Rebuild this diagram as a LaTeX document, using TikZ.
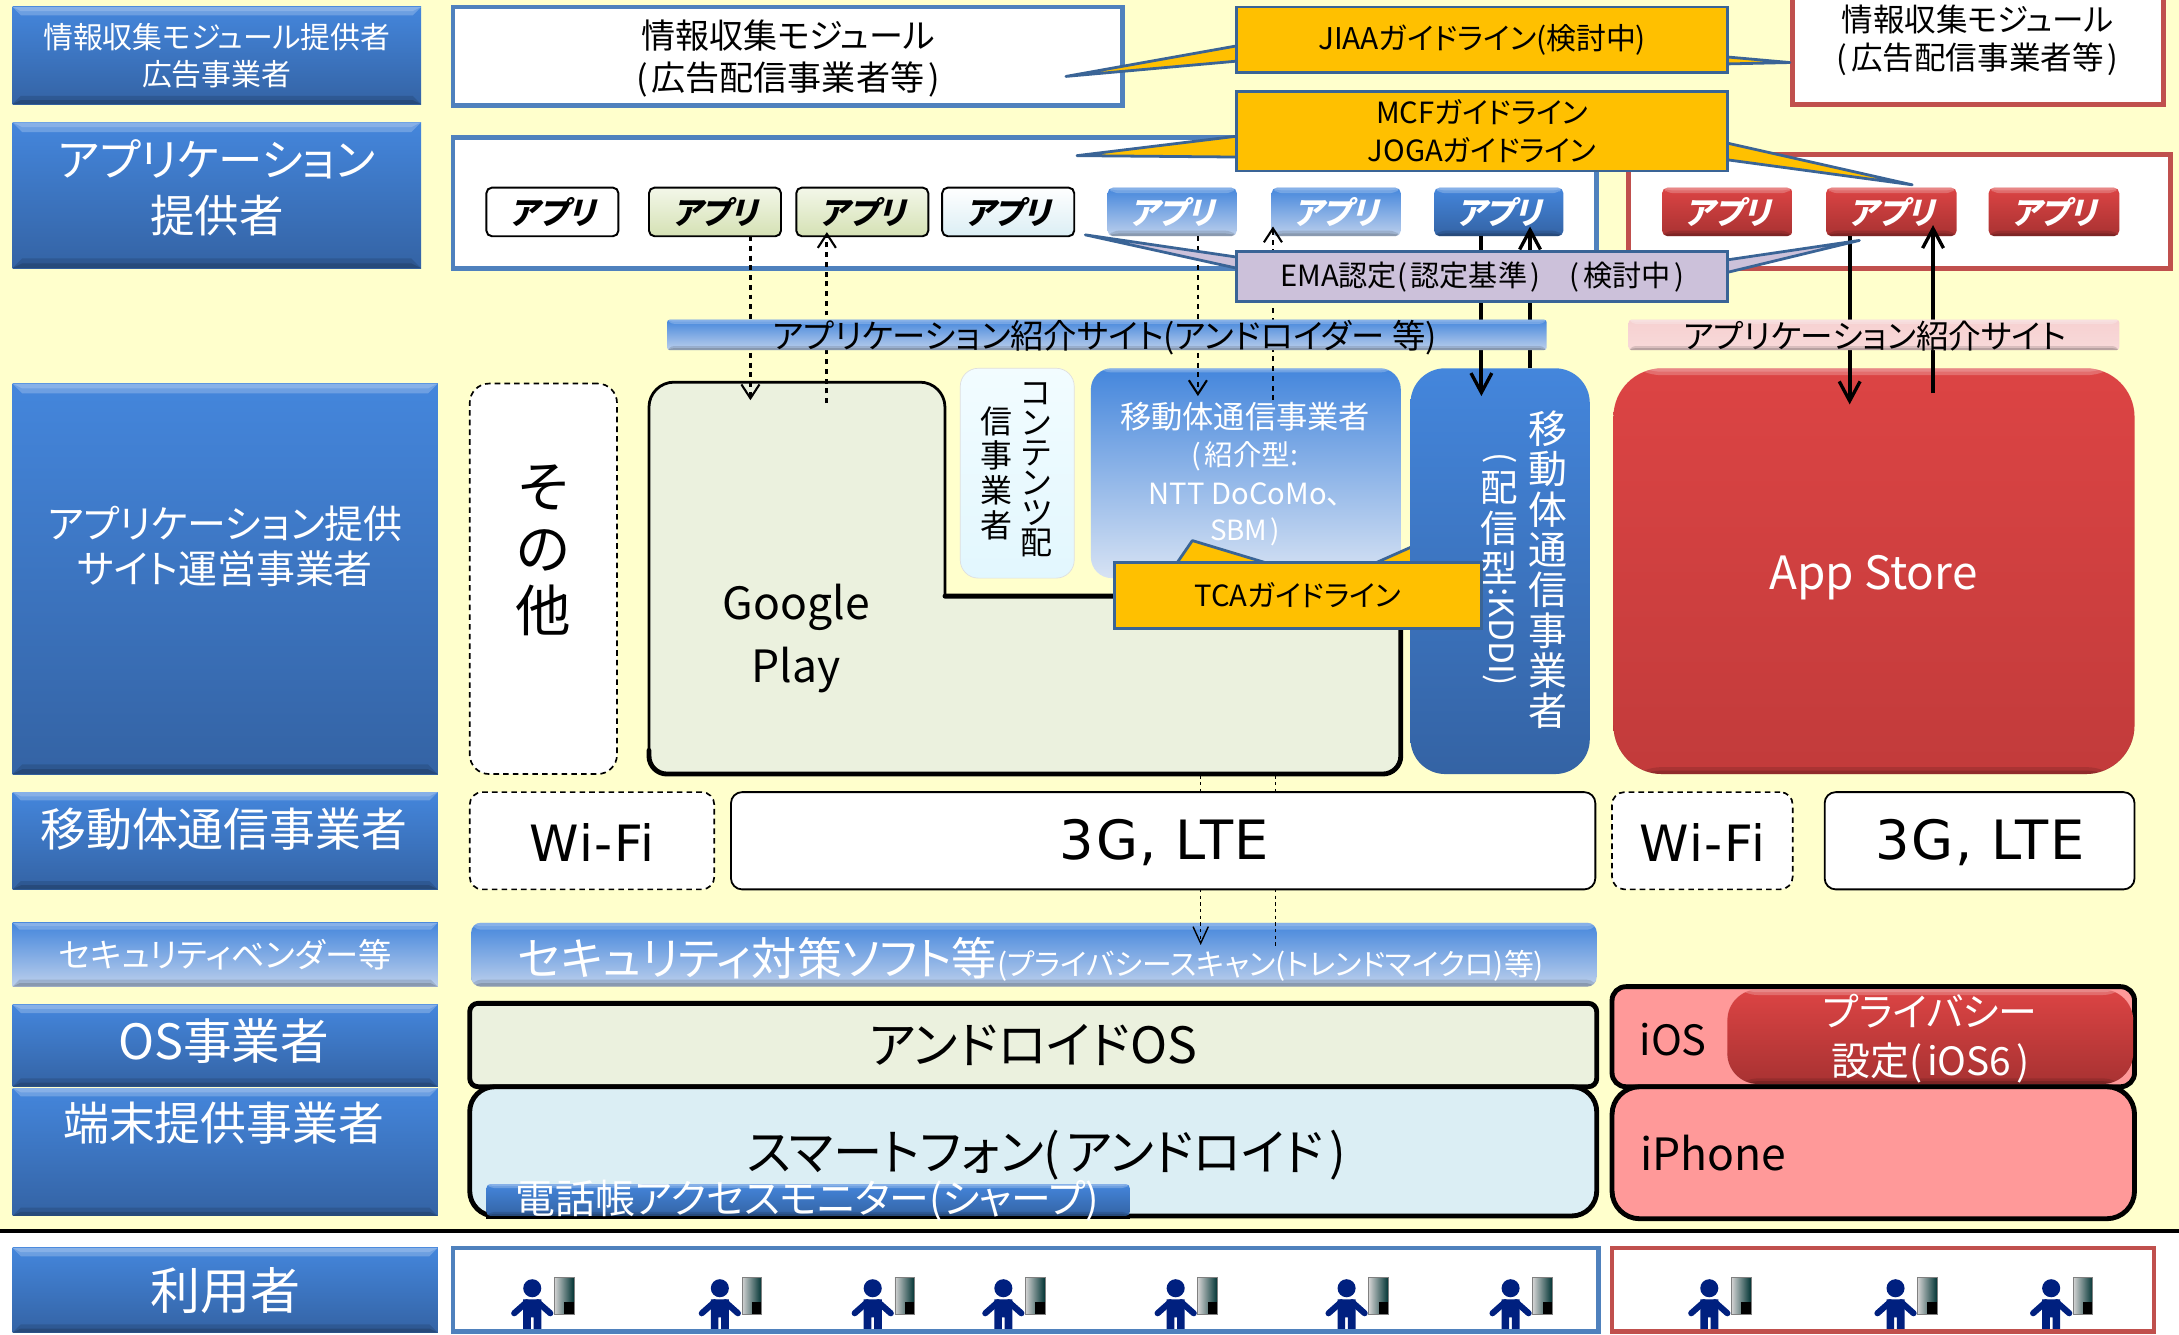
\documentclass[tikz,border=0pt]{standalone}
\usepackage{fontspec}
\setmainfont[RawFeature=+palt]{Noto Sans CJK JP}
\newfontfamily\appf[FakeSlant=0.25,RawFeature=+palt]{Noto Sans CJK JP}
\newfontfamily\wide[LetterSpace=3]{DejaVu Sans}
\usetikzlibrary{arrows.meta,calc}
\lineskiplimit=-100pt
\definecolor{bgy}{HTML}{FFFFCC}
\definecolor{bstroke}{HTML}{4F81BD}
\definecolor{rstroke}{HTML}{C0504D}
\definecolor{cstroke}{HTML}{3A6496}
\definecolor{orng}{HTML}{FFC000}
\definecolor{lilac}{HTML}{CCC1DA}
\definecolor{gpfill}{HTML}{EBF1DE}
\definecolor{gptop}{HTML}{F3F7E9}
\definecolor{gpbot}{HTML}{D5E1B4}
\definecolor{cyt}{HTML}{F2FCFF}
\definecolor{cyb}{HTML}{E2F7FE}
\definecolor{smfill}{HTML}{DBEEF4}
\definecolor{pinkf}{HTML}{FF9999}
\definecolor{bt}{HTML}{4486DC}
\definecolor{bb}{HTML}{3463A4}
\definecolor{lb}{HTML}{BDD0EC}
\definecolor{rt}{HTML}{DC4444}
\definecolor{rb}{HTML}{A83232}
\definecolor{navy}{HTML}{00207F}
\newcommand{\fz}[2]{\fontsize{#1}{#2}\selectfont}
\newcommand{\zl}{(\kern.12em}
\newcommand{\zr}{\kern.12em)}
\newcommand{\ibox}[7]{\node[#6,align=center,inner sep=0pt,outer sep=0pt,minimum width={(#4-#2)*1pt},minimum height={(#5-#3)*1pt}] (#1) at ({(#2+#4)/2},{(#3+#5)/2}) {#7};}
\newcommand{\usr}[1]{\begin{scope}[shift={(#1,0)}]
 \fill[navy] (0,927) circle (6.5);
 \fill[navy] (-6.5,935) -- (6.5,935) -- (6.5,959) -- (1,959) -- (1,948) -- (-1,948) -- (-1,959) -- (-6.5,959) -- cycle;
 \draw[navy,line width=4.4,line cap=round] (-13,945) -- (-4,937);
 \draw[navy,line width=4.4,line cap=round] (13,945) -- (4,937);
 \shade[left color=gray!35!white,right color=black!80!cyan] (16,919) rectangle (30,946);
 \fill[black] (23,937) rectangle (30,946);
 \draw[gray,line width=.6] (16,919) rectangle (30,946);
\end{scope}}
\tikzset{
 bevr/.style={path picture={
  \fill[white,opacity=.22] (path picture bounding box.north west) rectangle ([yshift=-#1 pt]path picture bounding box.north east);
  \fill[white,opacity=.18] (path picture bounding box.north west) rectangle ([yshift=-.5*#1 pt]path picture bounding box.north east);
  \fill[black,opacity=.12] (path picture bounding box.south west) rectangle ([yshift=#1 pt]path picture bounding box.south east);
  \fill[black,opacity=.15] (path picture bounding box.south west) rectangle ([yshift=.5*#1 pt]path picture bounding box.south east);
 }},
 bevt/.style={path picture={
  \fill[white,opacity=.22] (path picture bounding box.north west) rectangle ([yshift=-#1 pt]path picture bounding box.north east);
  \fill[white,opacity=.18] (path picture bounding box.north west) rectangle ([yshift=-.5*#1 pt]path picture bounding box.north east);
 }},
 bev/.style={path picture={
  \fill[white,opacity=.22] (path picture bounding box.north west) -- (path picture bounding box.north east) -- ([xshift=-#1 pt,yshift=-#1 pt]path picture bounding box.north east) -- ([xshift=#1 pt,yshift=-#1 pt]path picture bounding box.north west) -- cycle;
  \fill[white,opacity=.18] (path picture bounding box.north west) -- (path picture bounding box.north east) -- ([xshift=-#1 pt,yshift=-.5*#1 pt]path picture bounding box.north east) -- ([xshift=#1 pt,yshift=-.5*#1 pt]path picture bounding box.north west) -- cycle;
  \fill[black,opacity=.12] (path picture bounding box.south west) -- (path picture bounding box.south east) -- ([xshift=-#1 pt,yshift=#1 pt]path picture bounding box.south east) -- ([xshift=#1 pt,yshift=#1 pt]path picture bounding box.south west) -- cycle;
  \fill[black,opacity=.15] (path picture bounding box.south west) -- (path picture bounding box.south east) -- ([xshift=-#1 pt,yshift=.5*#1 pt]path picture bounding box.south east) -- ([xshift=#1 pt,yshift=.5*#1 pt]path picture bounding box.south west) -- cycle;
 }},
 blueg/.style={top color=bt,bottom color=bb,text=white,bev=#1},
 lightg/.style={top color=bt,bottom color=lb,text=white,bev=#1},
 redg/.style={top color=rt,bottom color=rb,text=white,bev=#1},
 whitebox/.style={fill=white,draw=#1,line width=3.5pt},
 appbox/.style={rounded corners=4pt,font=\appf\bfseries\fz{22.5}{28}},
 appout/.style={draw=black,line width=1.4pt},
 dashbox/.style={fill=white,draw=black,line width=1.2pt,dash pattern=on 4pt off 3pt,rounded corners=#1},
 solidbox/.style={fill=white,draw=black,line width=1.3pt,rounded corners=8pt},
 call/.style={fill=orng,draw=cstroke,line width=2pt},
 ptr/.style={fill=orng,draw=cstroke,line width=2pt,line join=round},
 emaptr/.style={fill=lilac,draw=cstroke,line width=2pt,line join=round},
 thickk/.style={draw=black,line width=3.5pt},
 dashconn/.style={line width=2pt,dash pattern=on 3.5pt off 3.5pt,-{Straight Barb[length=10pt,width=13pt,line width=1.5pt]}},
 solconn/.style={line width=3pt,-{Straight Barb[length=14pt,width=15pt,line width=2.4pt]}},
 thinconn/.style={line width=1.1pt,dash pattern=on 2.4pt off 2.4pt,-{Straight Barb[length=12pt,width=11pt,line width=1pt]}},
 thinplain/.style={line width=1.1pt,dash pattern=on 2.4pt off 2.4pt},
 stack/.style={align=center,inner sep=0pt}
}
\begin{document}
\begin{tikzpicture}[x=1pt,y=-1pt]
\useasboundingbox (0,0) rectangle (1568,960.6);
\fill[white] (0,0) rectangle (1568,960.6);
\fill[bgy] (0,0) rectangle (1568,886);
\coordinate (rulel) at (0,886);
\coordinate (ruler) at (1568,886);
\draw[black,line width=2.6pt] (rulel) -- (ruler);
% left labels
\ibox{l1}{9}{5}{303}{75}{blueg=6,font=\fz{21.5}{27}}{情報収集モジュール提供者\\広告事業者}
\ibox{l2}{9}{88}{303}{193}{blueg=7}{}
\node[align=center,text=white,font=\fz{32}{40}] (l2t) at (156,135) {アプリケーション\\提供者};
\ibox{l3}{9}{276}{315}{557}{blueg=7}{}
\node[align=center,text=white,font=\fz{28}{32}] (l3t) at (162,393) {アプリケーション提供\\サイト運営事業者};
\ibox{l4}{9}{570}{315}{640}{blueg=6}{}
\node[text=white,font=\fz{33}{38}] (l4t) at (161,597) {移動体通信事業者};
\ibox{l5}{9}{664}{315}{710}{lightg=5,font=\fz{24}{28}}{セキュリティベンダー等}
\ibox{l6}{9}{723}{315}{782}{blueg=6}{}
\node[text=white,font=\fz{35}{38}] (l6t) at (161,749) {OS事業者};
\ibox{l7}{9}{783}{315}{875}{blueg=6}{}
\node[text=white,font=\fz{33}{38}] (l7t) at (161,808) {端末提供事業者};
\ibox{l8}{9}{898}{315}{959}{blueg=6,font=\fz{36}{40}}{利用者}
% provider panels
\ibox{pa}{326}{5}{808}{76}{whitebox=bstroke}{}
\node[align=center,font=\fz{24.5}{30}] (pat) at (567,42) {情報収集モジュール\\\zl 広告配信事業者等\zr};
\ibox{pb}{326}{99}{1149}{193}{whitebox=bstroke}{}
\ibox{pc}{1290}{-40}{1557}{75}{whitebox=rstroke}{}
\node[align=center,font=\fz{22.7}{27}] (pct) at (1423,29) {情報収集モジュール\\\zl 広告配信事業者等\zr};
\ibox{pd}{1172}{111}{1562}{193}{whitebox=rstroke}{}
% apps
\ibox{a1}{350}{135}{445}{170}{appbox,appout,fill=white}{アプリ}
\ibox{a2}{467}{135}{562}{170}{appbox,appout,top color=gptop,bottom color=gpbot}{アプリ}
\ibox{a3}{573}{135}{668}{170}{appbox,appout,top color=gptop,bottom color=gpbot}{アプリ}
\ibox{a4}{678}{135}{773}{170}{appbox,appout,top color=white,bottom color=smfill}{アプリ}
\ibox{a5}{797}{135}{890}{170}{appbox,lightg=4}{アプリ}
\ibox{a6}{915}{135}{1008}{170}{appbox,lightg=4}{アプリ}
\ibox{a7}{1032}{135}{1125}{170}{appbox,blueg=4}{アプリ}
\ibox{a8}{1196}{135}{1290}{170}{appbox,redg=4}{アプリ}
\ibox{a9}{1314}{135}{1408}{170}{appbox,redg=4}{アプリ}
\ibox{a10}{1431}{135}{1525}{170}{appbox,redg=4}{アプリ}
% site operators
\ibox{oth}{338}{276}{444}{557}{dashbox=14pt}{}
\node[stack,font=\fz{40}{44.5}] (otht) at (391,396) {そ\\の\\他};
\ibox{cont}{691}{265}{773}{416}{rounded corners=13pt,top color=cyt,bottom color=cyb,draw=gray!25,line width=.5pt}{}
\node[stack,font=\fz{23}{21.6}] (cont1) at (746,338) {コ\\ン\\テ\\ン\\ツ\\配};
\node[stack,font=\fz{23}{25}] (cont2) at (717,340.5) {信\\事\\業\\者};
\ibox{mob}{785}{265}{1008}{416}{rounded corners=15pt,top color=bt,bottom color=lb!60!white,text=white,bevt=3}{}
\node[text=white,font=\fz{22.5}{26}] (mob1) at (896,300) {移動体通信事業者};
\node[text=white,font=\fz{20.5}{24}] (mob2) at (896,328) {\zl 紹介型:};
\node[text=white,font=\fz{21}{24}] (mob3) at (896,356) {NTT DoCoMo、};
\node[text=white,font=\fz{20}{24}] (mob4) at (896,383) {SBM\zr};
\coordinate (tcaA) at (990,405);
\coordinate (tcaB) at (1017,393);
\coordinate (tcaC) at (1017,405);
\draw[ptr] (tcaA) -- (tcaB) -- (tcaC) -- cycle;
\ibox{kddi}{1015}{265}{1144}{557}{rounded corners=25pt,top color=bt,bottom color=bb}{}
\node[stack,text=white,font=\fz{28}{29}] (kd1) at (1114,410) {移\\動\\体\\通\\信\\事\\業\\者};
\node[text=white,rotate=-90,inner sep=0pt,font=\fz{24}{28}] (kd2) at (1079,330) {(};
\node[stack,text=white,font=\fz{27}{29}] (kd3) at (1079,380) {配\\信\\型};
\node[text=white,rotate=-90,inner sep=0pt,font=\fz{24}{28}] (kd4) at (1079,458) {:KDDI)};
\ibox{app}{1161}{265}{1536}{557}{rounded corners=35pt,top color=rt,bottom color=rb!50!rt,text=white,bevr=5}{}
\node[text=white,font=\fz{33}{38}] (appt) at (1348,415.5) {App Store};
% security bar
\ibox{sec}{339}{664}{1149}{710}{rounded corners=7pt,top color=bt,bottom color=lb,text=white,bevr=5}{}
\node[text=white] (sect) at (742,690) {{\fz{32.5}{36}セキュリティ対策ソフト等}{\fz{21.5}{24}(プライバシースキャン(トレンドマイクロ)等)}};
% lower connectors
\coordinate (lo1a) at (864,558);
\coordinate (lo1b) at (864,680);
\coordinate (lo2a) at (918,558);
\coordinate (lo2b) at (918,681);
\draw[thinconn] (lo1a) -- (lo1b);
\draw[thinplain] (lo2a) -- (lo2b);
% networks
\ibox{wf1}{338}{570}{514}{640}{dashbox=9pt}{}
\node[font=\wide\fz{36}{40}] (wf1t) at (426,606) {Wi-Fi};
\ibox{g1}{526}{570}{1148}{640}{solidbox}{}
\node[font=\wide\fz{39}{40}] (g1t) at (838,606.5) {3G, LTE};
\ibox{wf2}{1160}{570}{1290}{640}{dashbox=9pt}{}
\node[font=\wide\fz{36}{40}] (wf2t) at (1225,606) {Wi-Fi};
\ibox{g2}{1313}{570}{1536}{640}{solidbox}{}
\node[font=\wide\fz{39}{40}] (g2t) at (1425,606.5) {3G, LTE};
% google play
\coordinate (gp1) at (467,557);
\coordinate (gp1b) at (467,540);
\coordinate (gp2) at (467,275);
\coordinate (gp3) at (680,275);
\coordinate (gp4) at (680,429);
\coordinate (gp5) at (1008,429);
\coordinate (gp6) at (1008,557);
\fill[gpfill,rounded corners=18pt] (gp1) -- (gp2) -- (gp3) -- (gp3 |- gp1) -- cycle;
\fill[gpfill,rounded corners=13pt] (600,429) rectangle (gp6);
\draw[line width=2pt,rounded corners=18pt] (gp4) -- (gp3) -- (gp2) -- (gp1b);
\draw[line width=3.5pt,rounded corners=13pt,line cap=round] (gp4) -- (gp5) -- (gp6) -- (gp1) -- (gp1b);
\node[align=center,font=\fz{32}{45}] (gpt) at (573,459.5) {Google\\Play};
% upper connectors
\coordinate (u1) at (540,288);
\coordinate (u2) at (595,290);
\coordinate (u2t) at (595,167);
\coordinate (u3) at (862,285);
\coordinate (u4) at (916,288);
\coordinate (u4t) at (916,163);
\coordinate (u5) at (1066,285);
\coordinate (u6) at (1101,265);
\coordinate (u6t) at (1101,163);
\coordinate (u7) at (1331,291);
\coordinate (u8) at (1391,283);
\coordinate (u8t) at (1391,162);
\draw[dashconn] (a2.south -| u1) -- (u1);
\draw[dashconn] (u2) -- (u2t);
\draw[dashconn] (a5.south -| u3) -- (u3);
\draw[dashconn] (u4) -- (u4t);
\draw[solconn] (a7.south -| u5) -- (u5);
\draw[solconn] (u6) -- (u6t);
\draw[solconn] (a9.south -| u7) -- (u7);
\draw[solconn] (u8) -- (u8t);
% site bars
\ibox{bar1}{480}{230}{1113}{252}{rounded corners=2pt,lightg=3}{}
\node[font=\fz{24}{26}] (bar1t) at (795,243) {アプリケーション紹介サイト(アンドロイダー 等)};
\ibox{bar2}{1172}{230}{1525}{252}{rounded corners=2pt,top color=rt!25!white,bottom color=rt!20!white,bev=3}{}
\node[font=\fz{23.5}{26}] (bar2t) at (1349,242) {アプリケーション紹介サイト};
% callouts
\coordinate (j1) at (890,33);
\coordinate (j2) at (767,55);
\coordinate (j3) at (890,44);
\coordinate (j4) at (1243,41);
\coordinate (j5) at (1288,45);
\coordinate (j6) at (1243,46);
\draw[ptr] (j1) -- (j2) -- (j3) -- cycle;
\draw[ptr] (j4) -- (j5) -- (j6) -- cycle;
\ibox{jiaa}{890}{5}{1243}{52}{call,font=\fz{21.5}{24}}{JIAAガイドライン(検討中)}
\coordinate (m1) at (890,98);
\coordinate (m2) at (775,112);
\coordinate (m3) at (890,113);
\coordinate (m4) at (1243,103);
\coordinate (m5) at (1376,133);
\coordinate (m6) at (1243,115);
\draw[ptr] (m1) -- (m2) -- (m3) -- cycle;
\draw[ptr] (m4) -- (m5) -- (m6) -- cycle;
\ibox{mcf}{890}{66}{1243}{123}{call,font=\fz{21}{27}}{MCFガイドライン\\JOGAガイドライン}
\coordinate (e1) at (890,185);
\coordinate (e2) at (781,169);
\coordinate (e3) at (890,193);
\coordinate (e4) at (1243,187);
\coordinate (e5) at (1338,173);
\coordinate (e6) at (1243,196);
\draw[emaptr] (e1) -- (e2) -- (e3) -- cycle;
\draw[emaptr] (e4) -- (e5) -- (e6) -- cycle;
\ibox{ema}{890}{181}{1243}{217}{fill=lilac,draw=cstroke,line width=2pt,font=\fz{21}{24}}{EMA認定\zl 認定基準\zr\kern1em\zl 検討中\zr}
\coordinate (t1) at (847,405);
\coordinate (t2) at (858,389);
\coordinate (t3) at (911,405);
\draw[ptr] (t1) -- (t2) -- (t3) -- cycle;
\ibox{tca}{802}{405}{1066}{452}{call,font=\fz{21}{24}}{TCAガイドライン}
% OS and handset
\ibox{os}{338}{722}{1149}{782}{rounded corners=6pt,fill=gpfill,thickk,font=\fz{36}{40}}{アンドロイドOS}
\ibox{sm}{338}{782}{1149}{875}{rounded corners=18pt,fill=smfill,thickk}{}
\node[font=\fz{35.5}{38}] (smt) at (753,831) {スマートフォン\zl アンドロイド\zr};
\coordinate (mon1) at (350,876);
\coordinate (mon2) at (813,876);
\draw[line width=2.5pt] (mon1) -- (mon2);
\ibox{mon}{350}{852}{813}{875}{rounded corners=3pt,blueg=3}{}
\node[text=white,font=\fz{28.7}{30}] (mont) at (581,864) {電話帳アクセスモニター(シャープ)};
\ibox{ios}{1160}{710}{1536}{782}{rounded corners=10pt,fill=pinkf,thickk}{}
\node[font=\fz{30}{36}] (iost) at (1204,748) {iOS};
\ibox{prv}{1243}{712}{1535}{780}{rounded corners=22pt,top color=rt,bottom color=rb,text=white,bevr=4}{}
\node[align=center,text=white,font=\fz{28}{35}] (prvt) at (1389,747.5) {プライバシー\\設定\zl iOS6\zr};
\ibox{iph}{1160}{782}{1536}{877}{rounded corners=20pt,fill=pinkf,thickk}{}
\node[anchor=west,inner sep=0pt,font=\fz{32}{38}] (ipht) at (1180,830) {iPhone};
% users
\fill[white] (326,898) rectangle (1150,958);
\fill[white] (1160,898) rectangle (1550,958);
\usr{383}\usr{518}\usr{628}\usr{722}\usr{846}\usr{969}\usr{1087}\usr{1230}\usr{1364}\usr{1476}
\ibox{ub}{326}{898}{1150}{958}{draw=bstroke,line width=3.5pt}{}
\ibox{ur}{1160}{898}{1550}{958}{draw=rstroke,line width=3.5pt}{}
\end{tikzpicture}
\end{document}
